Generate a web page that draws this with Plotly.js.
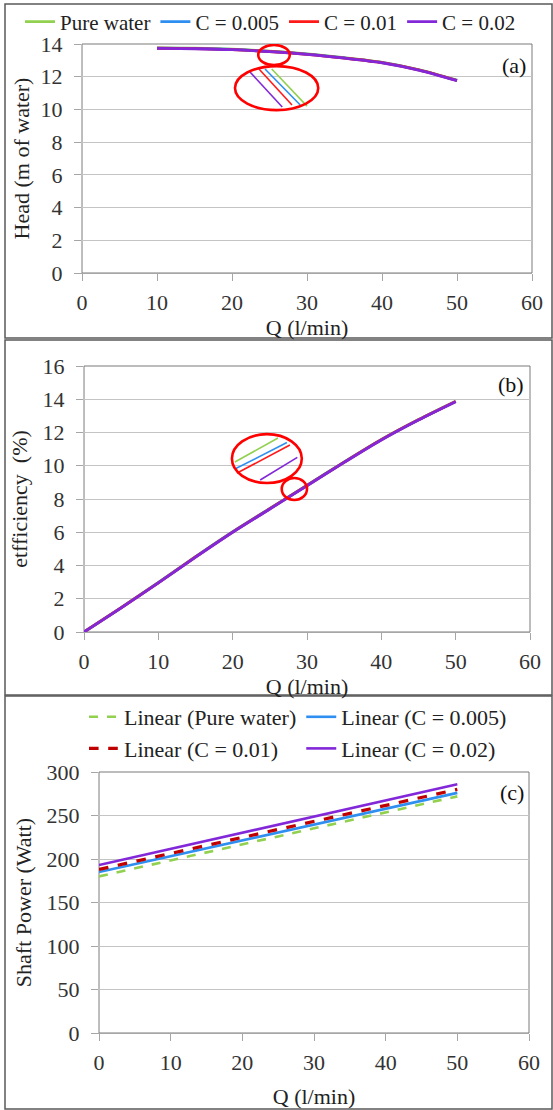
<!DOCTYPE html>
<html>
<head>
<meta charset="utf-8">
<script src="https://cdn.plot.ly/plotly-3.0.1.min.js"></script>
<style>html,body{margin:0;padding:0;background:#fff;} #chart{width:553px;height:1110px;}</style>
</head>
<body>
<div id="chart"></div>
<script>
// ---------- DATA ----------
const seriesNames = ["Pure water", "C = 0.005", "C = 0.01", "C = 0.02"];
const linearNames = ["Linear (Pure water)", "Linear (C = 0.005)", "Linear (C = 0.01)", "Linear (C = 0.02)"];

// (a) Head vs Q
const qHead = [10, 15, 20, 25, 30, 35, 40, 45, 50];
const headPure = [13.76, 13.74, 13.68, 13.56, 13.39, 13.16, 12.88, 12.42, 11.79];
const headC005 = [13.75, 13.73, 13.67, 13.55, 13.38, 13.15, 12.87, 12.41, 11.78];
const headC01  = [13.74, 13.72, 13.66, 13.54, 13.37, 13.14, 12.86, 12.40, 11.77];
const headC02  = [13.73, 13.71, 13.65, 13.53, 13.36, 13.13, 12.85, 12.39, 11.76];

// (b) Efficiency vs Q
const qEff = [0, 5, 10, 15, 20, 25, 30, 35, 40, 45, 50];
const effPure = [0, 1.47, 2.98, 4.53, 6.03, 7.43, 8.83, 10.23, 11.58, 12.78, 13.88];
const effC005 = [0, 1.46, 2.97, 4.52, 6.02, 7.42, 8.82, 10.22, 11.57, 12.77, 13.87];
const effC01  = [0, 1.46, 2.96, 4.51, 6.01, 7.41, 8.81, 10.21, 11.56, 12.76, 13.86];
const effC02  = [0, 1.45, 2.95, 4.50, 6.00, 7.40, 8.80, 10.20, 11.55, 12.75, 13.85];

// (c) Shaft power linear trend lines
const qLin = [0, 50];
const powerPure = [180, 272];
const powerC005 = [185, 276];
const powerC01  = [188, 280];
const powerC02  = [193, 286];

// ---------- STYLE ----------
const colors = ["#92d050", "#2e8ff0", "#ff1a1a", "#8228d8"];
const colorsC = ["#92d050", "#2e8ff0", "#c00000", "#8228d8"];
const FONT = "Liberation Serif";
const W = 553, H = 1110;
const px = v => v / W;
const py = v => 1 - v / H;

// callout decorations (axis units) for (a) and (b)
const calloutA = {
  small: [23.5, 27.7, 12.71, 13.94],
  big: [20.4, 31.5, 9.96, 12.65],
  strokes: [[22.4, 12.29, 26.7, 10.15], [23.6, 12.47, 28.0, 10.27], [24.4, 12.47, 29.1, 10.27], [25.3, 12.47, 30.0, 10.2]]
};
const calloutB = {
  small: [26.6, 30.0, 7.94, 9.26],
  big: [19.9, 29.3, 8.96, 11.9],
  strokes: [[20.3, 10.23, 26.1, 11.67], [20.3, 9.8, 27.3, 11.4], [20.6, 9.56, 27.7, 11.25], [23.7, 9.14, 28.7, 10.5]]
};

const headData = [headPure, headC005, headC01, headC02];
const effData = [effPure, effC005, effC01, effC02];
const powerData = [powerPure, powerC005, powerC01, powerC02];

const traces = [];
headData.forEach((ys, i) => traces.push({
  x: qHead, y: ys, xaxis: 'x', yaxis: 'y', type: 'scatter', mode: 'lines',
  name: seriesNames[i], line: {color: colors[i], width: 2.8, shape: 'spline', smoothing: 0.8}, legend: 'legend'
}));
effData.forEach((ys, i) => traces.push({
  x: qEff, y: ys, xaxis: 'x2', yaxis: 'y2', type: 'scatter', mode: 'lines',
  name: seriesNames[i], showlegend: false, line: {color: colors[i], width: 2.8, shape: 'spline', smoothing: 0.8}
}));
const cDash = ['dash', 'solid', 'dash', 'solid'];
const cWidth = [2.6, 2.6, 3.2, 2.6];
powerData.forEach((ys, i) => traces.push({
  x: qLin, y: ys, xaxis: 'x3', yaxis: 'y3', type: 'scatter', mode: 'lines',
  name: linearNames[i], legend: 'legend2', line: {color: colorsC[i], width: cWidth[i], dash: cDash[i]}
}));

const tickFont = {family: FONT, size: 22, color: '#333'};
const titleFont = {family: FONT, size: 22, color: '#222'};

function xax(dom, anchor, standoff) {
  return {domain: dom, anchor: anchor, range: [0, 60], dtick: 10, tick0: 0,
    ticks: 'outside', ticklen: 7, tickcolor: '#a6a6a6', showline: true, linecolor: '#a6a6a6',
    showgrid: false, zeroline: false, tickfont: tickFont, automargin: false,
    ticklabelstandoff: 3,
    title: {text: 'Q (l/min)', font: titleFont, standoff: standoff}};
}
function yax(dom, anchor, range, dtick, title, standoff) {
  return {domain: dom, anchor: anchor, range: range, dtick: dtick, tick0: 0,
    ticks: 'outside', ticklen: 7, tickcolor: '#a6a6a6', showline: true, linecolor: '#bfbfbf',
    showgrid: true, gridcolor: '#c4c4c4', gridwidth: 1, zeroline: false,
    tickfont: tickFont, automargin: false, ticklabelstandoff: 7,
    title: {text: title, font: titleFont, standoff: standoff}};
}

const shapes = [];
// panel frames
[[5, 4, 552, 338], [5, 340, 552, 695], [5, 696, 552, 1109]].forEach(f => shapes.push({
  type: 'rect', xref: 'paper', yref: 'paper', x0: px(f[0]), x1: px(f[2]), y0: py(f[3]), y1: py(f[1]),
  line: {color: '#5a5a5a', width: 1.5}, layer: 'below'
}));
// plot area borders
[['x', 'y'], ['x2', 'y2'], ['x3', 'y3']].forEach(a => shapes.push({
  type: 'rect', xref: a[0] + ' domain', yref: a[1] + ' domain', x0: 0, x1: 1, y0: 0, y1: 1,
  line: {color: '#7a7a7a', width: 1}, layer: 'below'
}));
function addCallout(c, xr, yr) {
  const strokeColors = (xr === 'x') ? [colors[3], colors[2], colors[1], colors[0]] : [colors[0], colors[1], colors[2], colors[3]];
  c.strokes.forEach((s, i) => shapes.push({type: 'line', xref: xr, yref: yr, x0: s[0], y0: s[1], x1: s[2], y1: s[3],
    line: {color: strokeColors[i], width: 1.6}}));
  shapes.push({type: 'circle', xref: xr, yref: yr, x0: c.big[0], x1: c.big[1], y0: c.big[2], y1: c.big[3], line: {color: '#ff0000', width: 2.6}});
  shapes.push({type: 'circle', xref: xr, yref: yr, x0: c.small[0], x1: c.small[1], y0: c.small[2], y1: c.small[3], line: {color: '#ff0000', width: 2.6}});
}
addCallout(calloutA, 'x', 'y');
addCallout(calloutB, 'x2', 'y2');

const panelLabel = (t, xr, yr, yy) => ({text: t, xref: xr + ' domain', yref: yr + ' domain', x: 0.992, y: yy,
  xanchor: 'right', yanchor: 'middle', showarrow: false, font: {family: FONT, size: 22, color: '#111'}});

const layout = {
  width: W, height: H, margin: {l: 0, r: 0, t: 0, b: 0},
  paper_bgcolor: '#fff', plot_bgcolor: '#fff',
  font: {family: FONT, size: 22, color: '#222'},
  xaxis: xax([px(82), px(532)], 'y', 0),
  yaxis: yax([py(273), py(44)], 'x', [0, 14], 2, 'Head (m of water)', 4),
  xaxis2: xax([px(84), px(530)], 'y2', 0),
  yaxis2: yax([py(632), py(366)], 'x2', [0, 16], 2, 'etfficiency  (%)', 8),
  xaxis3: xax([px(99), px(529)], 'y3', 14),
  yaxis3: yax([py(1033), py(772)], 'x3', [0, 300], 50, 'Shaft Power (Watt)', 8),
  legend: {orientation: 'h', x: px(20), y: py(22), xanchor: 'left', yanchor: 'middle',
    font: {family: FONT, size: 21, color: '#222'}, itemwidth: 30, bgcolor: 'rgba(0,0,0,0)', traceorder: 'normal'},
  legend2: {orientation: 'h', x: px(84), y: py(733), xanchor: 'left', yanchor: 'middle',
    font: {family: FONT, size: 22, color: '#222'}, itemwidth: 30, bgcolor: 'rgba(0,0,0,0)', traceorder: 'normal'},
  shapes: shapes,
  annotations: [panelLabel('(a)', 'x', 'y', 0.905), panelLabel('(b)', 'x2', 'y2', 0.93), panelLabel('(c)', 'x3', 'y3', 0.92)],
  showlegend: true
};

Plotly.newPlot('chart', traces, layout, {displayModeBar: false, staticPlot: true});
</script>
</body>
</html>
